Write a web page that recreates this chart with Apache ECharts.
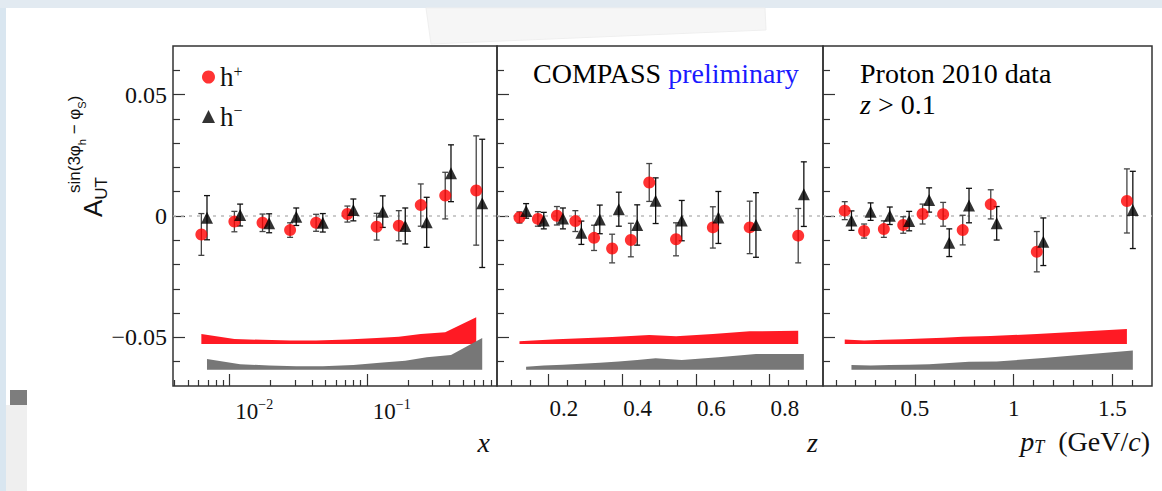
<!DOCTYPE html>
<html>
<head>
<meta charset="utf-8">
<script src="https://cdn.jsdelivr.net/npm/echarts@6/dist/echarts.min.js"></script>
<style>
  html, body { margin: 0; padding: 0; background: #fff; }
  #chart { width: 1162px; height: 491px; }
</style>
</head>
<body>
<div id="chart"></div>
<script>
// ---- panel 1: x (log) ----
var xHp = [0.00627, 0.0109, 0.01746, 0.0277, 0.0428, 0.0723, 0.118, 0.171, 0.247, 0.372, 0.625];
var aHpX = [-0.0076, -0.0023, -0.0028, -0.0058, -0.0028, 0.0008, -0.0044, -0.0040, 0.0045, 0.0084, 0.0105];
var eHpX = [0.0086, 0.0042, 0.0036, 0.0030, 0.0035, 0.0033, 0.0055, 0.0062, 0.0087, 0.0096, 0.0225];
var sHpX = [0.0041, 0.0021, 0.0017, 0.0014, 0.0014, 0.0018, 0.0025, 0.0030, 0.0041, 0.0048, 0.0110];
var xHm = [0.00689, 0.0120, 0.0195, 0.0307, 0.0479, 0.0799, 0.1307, 0.1905, 0.2727, 0.4096, 0.691];
var aHmX = [-0.0007, 0.0004, -0.0030, -0.0003, -0.0028, 0.0025, 0.0018, -0.0041, -0.0026, 0.0176, 0.0052];
var eHmX = [0.0091, 0.0045, 0.0039, 0.0036, 0.0038, 0.0045, 0.0065, 0.0074, 0.0103, 0.0117, 0.0264];
var sHmX = [0.0044, 0.0023, 0.0017, 0.0014, 0.0014, 0.0019, 0.0030, 0.0037, 0.0051, 0.0061, 0.0131];

// ---- panel 2: z ----
var zHp = [0.121, 0.171, 0.2226, 0.2727, 0.3235, 0.3725, 0.4234, 0.4733, 0.546, 0.646, 0.746, 0.8777];
var aHpZ = [-0.0006, -0.0012, 0.0001, -0.0021, -0.0090, -0.0134, -0.0099, 0.0138, -0.0096, -0.0047, -0.0047, -0.0081];
var eHpZ = [0.0023, 0.0030, 0.0038, 0.0043, 0.0052, 0.0059, 0.0069, 0.0078, 0.0068, 0.0085, 0.0108, 0.0112];
var sHpZ = [0.0011, 0.0015, 0.0019, 0.0023, 0.0026, 0.0029, 0.0033, 0.0037, 0.0032, 0.0041, 0.0052, 0.0055];
var zHm = [0.139, 0.187, 0.239, 0.289, 0.339, 0.3907, 0.4406, 0.4907, 0.5616, 0.661, 0.763, 0.893];
var aHmZ = [0.0021, -0.0019, -0.0010, -0.0069, -0.0014, 0.0028, -0.0037, 0.0063, -0.0019, -0.0006, -0.0037, 0.0090];
var eHmZ = [0.0030, 0.0034, 0.0043, 0.0048, 0.0059, 0.0070, 0.0083, 0.0094, 0.0083, 0.0107, 0.0133, 0.0133];
var sHmZ = [0.0012, 0.0017, 0.0021, 0.0025, 0.0029, 0.0034, 0.0040, 0.0047, 0.0040, 0.0051, 0.0065, 0.0065];

// ---- panel 3: pT ----
var ptHp = [0.145, 0.243, 0.343, 0.441, 0.539, 0.643, 0.742, 0.884, 1.117, 1.573];
var aHpP = [0.0022, -0.0062, -0.0054, -0.0037, 0.0008, 0.0007, -0.0058, 0.0048, -0.0147, 0.0062];
var eHpP = [0.0037, 0.0029, 0.0034, 0.0034, 0.0041, 0.0049, 0.0061, 0.0060, 0.0083, 0.0132];
var sHpP = [0.0018, 0.0014, 0.0017, 0.0019, 0.0023, 0.0026, 0.0030, 0.0033, 0.0041, 0.0062];
var ptHm = [0.179, 0.276, 0.373, 0.471, 0.572, 0.674, 0.774, 0.914, 1.150, 1.603];
var aHmP = [-0.0019, 0.0018, 0.0001, -0.0021, 0.0066, -0.0110, 0.0043, -0.0030, -0.0106, 0.0025];
var eHmP = [0.0040, 0.0036, 0.0036, 0.0040, 0.0050, 0.0057, 0.0071, 0.0069, 0.0098, 0.0159];
var sHmP = [0.0019, 0.0017, 0.0019, 0.0021, 0.0023, 0.0028, 0.0033, 0.0034, 0.0048, 0.0079];

// systematic bands are drawn shifted down to these offsets
var sysBaseHp = -0.0527;
var sysBaseHm = -0.0633;

// ticks
var yMajor = [-0.05, 0, 0.05];
var yMinor = [-0.06, -0.04, -0.03, -0.02, -0.01, 0.01, 0.02, 0.03, 0.04, 0.06];
var xMajor = [0.01, 0.1];
var xMinor = [0.004, 0.005, 0.006, 0.007, 0.008, 0.009, 0.02, 0.03, 0.04, 0.05, 0.06, 0.07, 0.08, 0.09, 0.2, 0.3, 0.4, 0.5, 0.6, 0.7, 0.8];
var zMajor = [0.2, 0.4, 0.6, 0.8];
var zMinor = [0.1, 0.15, 0.25, 0.3, 0.35, 0.45, 0.5, 0.55, 0.65, 0.7, 0.75, 0.85, 0.9];
var ptMajor = [0.5, 1, 1.5];
var ptMinor = [0.1, 0.2, 0.3, 0.4, 0.6, 0.7, 0.8, 0.9, 1.1, 1.2, 1.3, 1.4, 1.6];

var serif = "'Liberation Serif', 'DejaVu Serif', serif";
var sans = "'Liberation Sans', Arial, sans-serif";
var tickColor = "#333";

var grids = [
  { left: 173, top: 46, width: 324, height: 340 },
  { left: 497, top: 46, width: 326, height: 340 },
  { left: 823, top: 46, width: 329, height: 340 }
];

function pairs(xs, ys) {
  return xs.map(function (x, k) { return [x, ys[k]]; });
}

function xAxisPair(gi, type, min, max, major, minor, label, name, nameStyle, nameGap) {
  var base = {
    gridIndex: gi, type: type, min: min, max: max, position: "bottom",
    axisLine: { show: false, onZero: false },
    splitLine: { show: false },
    minorTick: { show: false }
  };
  if (type === "log") base.logBase = 10;
  var maj = Object.assign({}, base, {
    axisTick: { show: true, inside: true, length: 12, customValues: major, lineStyle: { color: tickColor, width: 1.2 } },
    axisLabel: Object.assign({ show: true, customValues: major, margin: 11, color: "#111", fontFamily: serif, fontSize: 23 }, label),
    name: name, nameLocation: "end", nameGap: nameGap, nameTextStyle: nameStyle
  });
  var mnr = Object.assign({}, base, {
    axisTick: { show: true, inside: true, length: 6, customValues: minor, lineStyle: { color: tickColor, width: 1.2 } },
    axisLabel: { show: false }
  });
  return [maj, mnr];
}

function yAxisPair(gi, showLabel) {
  var base = {
    gridIndex: gi, type: "value", min: -0.07, max: 0.07, position: "left",
    axisLine: { show: false, onZero: false },
    splitLine: { show: false }
  };
  var maj = Object.assign({}, base, {
    axisTick: { show: true, inside: true, length: 12, customValues: yMajor, lineStyle: { color: tickColor, width: 1.2 } },
    axisLabel: {
      show: showLabel, customValues: yMajor, margin: 6, color: "#111", fontFamily: serif, fontSize: 24,
      formatter: function (v) { return v === 0 ? "0" : (v < 0 ? "\u2212" : "") + Math.abs(v).toFixed(2); }
    }
  });
  var mnr = Object.assign({}, base, {
    axisTick: { show: true, inside: true, length: 7, customValues: yMinor, lineStyle: { color: tickColor, width: 1.2 } },
    axisLabel: { show: false }
  });
  return [maj, mnr];
}

function bandSeries(i, xs, ss, base, color) {
  return {
    type: "custom", xAxisIndex: 2 * i, yAxisIndex: 2 * i, z: 2, silent: true,
    data: xs.map(function (x, k) { return [x, base + ss[k]]; }),
    encode: { x: 0, y: 1 },
    renderItem: function (params, api) {
      if (params.dataIndex !== 0) return null;
      var pts = xs.map(function (x, k) { return api.coord([x, base + ss[k]]); });
      pts.push(api.coord([xs[xs.length - 1], base]));
      pts.push(api.coord([xs[0], base]));
      return { type: "polygon", shape: { points: pts }, style: { fill: color } };
    }
  };
}

function errSeries(i, xs, as, es, color) {
  return {
    type: "custom", xAxisIndex: 2 * i, yAxisIndex: 2 * i, z: 3, silent: true,
    data: xs.map(function (x, k) { return [x, as[k], es[k]]; }),
    encode: { x: 0, y: 1 },
    renderItem: function (params, api) {
      var x = api.value(0), y = api.value(1), e = api.value(2);
      var p1 = api.coord([x, y + e]), p2 = api.coord([x, y - e]);
      var ls = { stroke: color, lineWidth: 1.3 };
      return {
        type: "group", children: [
          { type: "line", shape: { x1: p1[0], y1: p1[1], x2: p2[0], y2: p2[1] }, style: ls },
          { type: "line", shape: { x1: p1[0] - 3, y1: p1[1], x2: p1[0] + 3, y2: p1[1] }, style: ls },
          { type: "line", shape: { x1: p2[0] - 3, y1: p2[1], x2: p2[0] + 3, y2: p2[1] }, style: ls }
        ]
      };
    }
  };
}

function panelSeries(i, xp, ap, ep, sp, xm, am, em, sm) {
  return [
    bandSeries(i, xp, sp, sysBaseHp, "#ff1a24"),
    bandSeries(i, xm, sm, sysBaseHm, "#777777"),
    errSeries(i, xp, ap, ep, "#444"),
    errSeries(i, xm, am, em, "#111"),
    {
      type: "scatter", name: "h+", xAxisIndex: 2 * i, yAxisIndex: 2 * i, z: 5,
      symbol: "circle", symbolSize: 12, itemStyle: { color: "#ff0000" },
      data: pairs(xp, ap),
      markLine: {
        silent: true, z: 1, symbol: "none", label: { show: false },
        lineStyle: { color: "#bbbbbb", type: [3, 5], width: 1.5 },
        data: [{ yAxis: 0 }]
      }
    },
    {
      type: "scatter", name: "h\u2212", xAxisIndex: 2 * i, yAxisIndex: 2 * i, z: 6,
      symbol: "triangle", symbolSize: 12, itemStyle: { color: "#000" },
      data: pairs(xm, am)
    }
  ];
}

var titleStyle = { fontFamily: serif, fontStyle: "italic", fontSize: 28, color: "#111", align: "right", verticalAlign: "top", padding: [42, 0, 0, 0] };

var xAxes = []
  .concat(xAxisPair(0, "log", 0.0039, 0.885, xMajor, xMinor, {
    align: "left", padding: [0, 0, 0, 6],
    formatter: function (v) { return "{b|10}{e|\u2212" + Math.round(-Math.log10(v)) + "}"; },
    rich: {
      b: { fontSize: 23, fontFamily: serif, color: "#111", lineHeight: 28 },
      e: { fontSize: 14, fontFamily: serif, color: "#111", verticalAlign: "top", lineHeight: 14 }
    }
  }, "x", titleStyle, -7))
  .concat(xAxisPair(1, "value", 0.06, 0.945, zMajor, zMinor, {
    align: "left", padding: [0, 0, 0, 1],
    formatter: function (v) { return v.toFixed(1); }
  }, "z", titleStyle, -5))
  .concat(xAxisPair(2, "value", 0.035, 1.70, ptMajor, ptMinor, {
    formatter: function (v) { return String(v); }
  }, "{i|p}{s|T}{n|  (GeV/}{i|c}{n|)}", {
    align: "right", verticalAlign: "top", padding: [40, 0, 0, 0],
    rich: {
      i: { fontFamily: serif, fontStyle: "italic", fontSize: 28, color: "#111", lineHeight: 30 },
      s: { fontFamily: serif, fontStyle: "italic", fontSize: 18, color: "#111", verticalAlign: "bottom", lineHeight: 18 },
      n: { fontFamily: serif, fontSize: 28, color: "#111", lineHeight: 30 }
    }
  }, -2));

var yAxes = [].concat(yAxisPair(0, true), yAxisPair(1, false), yAxisPair(2, false));

var series = []
  .concat(panelSeries(0, xHp, aHpX, eHpX, sHpX, xHm, aHmX, eHmX, sHmX))
  .concat(panelSeries(1, zHp, aHpZ, eHpZ, sHpZ, zHm, aHmZ, eHmZ, sHmZ))
  .concat(panelSeries(2, ptHp, aHpP, eHpP, sHpP, ptHm, aHmP, eHmP, sHmP));

var myChart = echarts.init(document.getElementById("chart"), null, { renderer: "svg" });
var option = {
  animation: false,
  backgroundColor: "#fff",
  grid: grids.map(function (g) {
    return Object.assign({ show: true, borderColor: "#333", borderWidth: 1.5, backgroundColor: "transparent", containLabel: false, outerBoundsMode: "none" }, g);
  }),
  xAxis: xAxes,
  yAxis: yAxes,
  legend: {
    orient: "vertical", left: 197, top: 58, itemGap: 12, itemWidth: 13, itemHeight: 13,
    selectedMode: false,
    data: ["h+", "h\u2212"],
    formatter: function (n) { return n === "h+" ? "{m|h}{p|+}" : "{m|h}{p|\u2212}"; },
    textStyle: {
      rich: {
        m: { fontSize: 27, fontFamily: serif, color: "#111", lineHeight: 28 },
        p: { fontSize: 16, fontFamily: serif, color: "#111", verticalAlign: "top", lineHeight: 14 }
      }
    }
  },
  graphic: [
    // paper edges, tape and a corner of the slide around the figure
    { type: "rect", left: 0, top: 0, shape: { width: 6, height: 491 }, style: { fill: "#d9e6f0" }, z: -10 },
    { type: "rect", left: 0, top: 0, shape: { width: 1162, height: 8 }, style: { fill: "#e2eaf1" }, z: -10 },
    { type: "rect", left: 6, top: 405, shape: { width: 21, height: 86 }, style: { fill: "#efefef" }, z: -10 },
    { type: "rect", left: 10, top: 390, shape: { width: 17, height: 15 }, style: { fill: "#7d7d7d" }, z: -10 },
    {
      type: "polygon", z: -9,
      shape: { points: [[426, 8], [765, 8], [766, 30], [431, 44]] },
      style: { fill: "#f6f6f6", stroke: "#efefef", lineWidth: 1 }
    },
    {
      type: "text", x: 93, y: 217, rotation: Math.PI / 2,
      style: {
        text: "{a|A}{u|UT}", align: "left", verticalAlign: "middle",
        rich: {
          a: { fontSize: 26, fontFamily: sans, fill: "#111", lineHeight: 34 },
          u: { fontSize: 17, fontFamily: sans, fill: "#111", verticalAlign: "bottom", lineHeight: 17 }
        }
      }
    },
    {
      type: "text", x: 74, y: 193, rotation: Math.PI / 2,
      style: {
        text: "{n|sin(3\u03c6}{s|h}{n| \u2212 \u03c6}{s|S}{n|)}", align: "left", verticalAlign: "middle",
        rich: {
          n: { fontSize: 17, fontFamily: sans, fill: "#111", lineHeight: 26 },
          s: { fontSize: 11, fontFamily: sans, fill: "#111", verticalAlign: "bottom", lineHeight: 11 }
        }
      }
    },
    {
      type: "text", x: 533, y: 73,
      style: {
        text: "{a|COMPASS }{b|preliminary}", verticalAlign: "middle",
        rich: {
          a: { fontSize: 28, fontFamily: serif, fill: "#000" },
          b: { fontSize: 28, fontFamily: serif, fill: "#1a1aff" }
        }
      }
    },
    {
      type: "text", x: 860, y: 73,
      style: { text: "Proton 2010 data", verticalAlign: "middle", fontSize: 28, fontFamily: serif, fill: "#000" }
    },
    {
      type: "text", x: 860, y: 104,
      style: {
        text: "{i|z}{n| > 0.1}", verticalAlign: "middle",
        rich: {
          i: { fontSize: 28, fontFamily: serif, fontStyle: "italic", fill: "#000" },
          n: { fontSize: 28, fontFamily: serif, fill: "#000" }
        }
      }
    }
  ],
  series: series
};
myChart.setOption(option);
</script>
</body>
</html>
